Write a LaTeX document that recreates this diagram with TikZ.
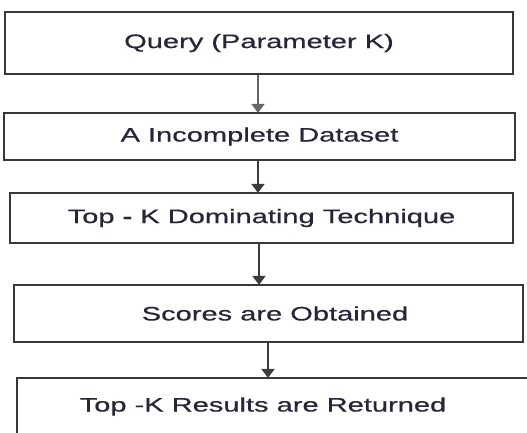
\documentclass[tikz,border=0pt]{standalone}
\usepackage{fontspec}
\setmainfont[FakeStretch=1.49,FakeBold=0.6]{Liberation Sans}
\usetikzlibrary{arrows.meta,positioning}
\definecolor{boxline}{HTML}{383838}
\definecolor{labeltext}{HTML}{262638}
\definecolor{arrowline}{HTML}{3C3C3C}
\tikzset{
  stepbox/.style={draw=boxline, line width=2.2pt, fill=white, rectangle,
    inner sep=0pt, text=labeltext, font=\fontsize{19.5}{22}\selectfont},
  flow/.style={draw=arrowline, line width=1.8pt,
    -{Triangle[width=13pt,length=9pt]}, shorten >=-1pt}
}
\begin{document}
\begin{tikzpicture}[x=1pt,y=-1pt]
  \useasboundingbox (0,0) rectangle (527,433);
  \clip (0,0) rectangle (527,433);
  % process steps
  \node[stepbox, minimum width=508pt, minimum height=62pt] (query) at (259,43)
    {Query (Parameter K)};
  \node[stepbox, minimum width=511pt, minimum height=47pt] (data) at (259.5,136.5)
    {A Incomplete Dataset};
  \node[stepbox, minimum width=503pt, minimum height=50pt] (topk) at (261.5,218)
    {Top \textbf{-} K Dominating Technique};
  \node[stepbox, minimum width=509pt, minimum height=57pt] (scores) at (268.5,313.5)
    {\hspace*{13pt}Scores are Obtained};
  \node[stepbox, minimum width=526pt, minimum height=57pt] (result) at (280,406.5)
    {\hspace*{-34pt}Top -K Results are Returned};
  % arrow columns
  \coordinate (c1) at (258,0);
  \coordinate (c2) at (258,0);
  \coordinate (c3) at (259,0);
  \coordinate (c4) at (268,0);
  % connectors
  \draw[flow, draw=gray!80!black] (query.south -| c1) -- (data.north -| c1);
  \draw[flow] (data.south -| c2) -- (topk.north -| c2);
  \draw[flow] (topk.south -| c3) -- (scores.north -| c3);
  \draw[flow] (scores.south -| c4) -- (result.north -| c4);
\end{tikzpicture}
\end{document}
